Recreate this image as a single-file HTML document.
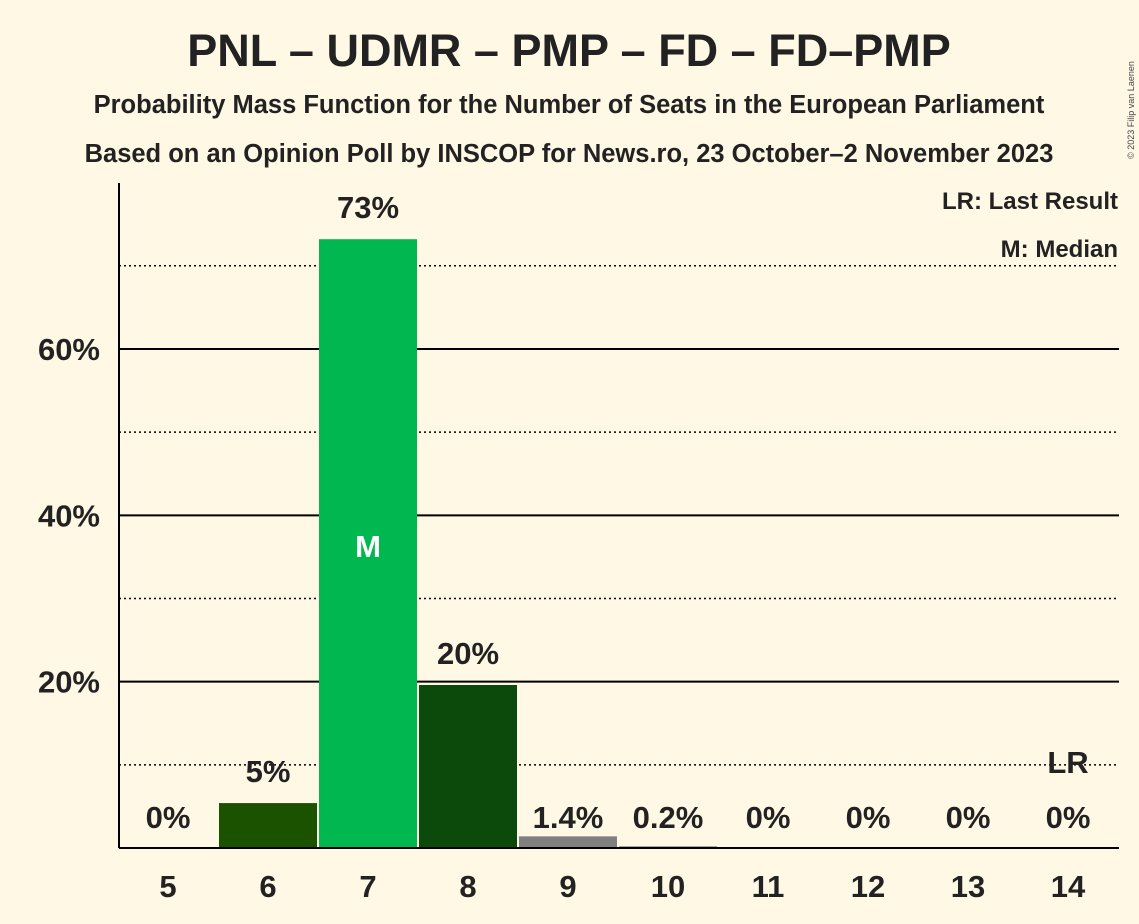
<!DOCTYPE html>
<html><head><meta charset="utf-8"><style>
body{margin:0;background:#fff8e5;}
svg{display:block;font-family:"Liberation Sans",sans-serif;font-weight:bold;}
</style></head><body>
<svg width="1139" height="924">
<rect width="1139" height="924" fill="#fff8e5"/>
<text x="569" y="66" text-anchor="middle" font-size="45" fill="#222">PNL – UDMR – PMP – FD – FD–PMP</text>
<text x="569" y="113" text-anchor="middle" font-size="25.5" fill="#222">Probability Mass Function for the Number of Seats in the European Parliament</text>
<text x="569" y="162" text-anchor="middle" font-size="25.5" fill="#222">Based on an Opinion Poll by INSCOP for News.ro, 23 October–2 November 2023</text>
<text x="1134" y="110" font-size="9" font-weight="normal" fill="#444" transform="rotate(-90 1134 110)" text-anchor="middle">© 2023 Filip van Laenen</text>
<g id="grid"></g>
<g id="bars"></g>
<line x1="119" y1="183" x2="119" y2="848" stroke="#000" stroke-width="2"/>
<line x1="119" y1="848" x2="1119" y2="848" stroke="#000" stroke-width="2"/>
<text x="1118" y="209" text-anchor="end" font-size="24" fill="#222">LR: Last Result</text>
<text x="1118" y="257" text-anchor="end" font-size="24" fill="#222">M: Median</text>
</svg>
<script>
const seats=[5,6,7,8,9,10,11,12,13,14];
const probs=[0,5.4,73.2,19.6,1.4,0.2,0,0,0,0];
const labels=["0%","5%","73%","20%","1.4%","0.2%","0%","0%","0%","0%"];
const colors=["#1a5200","#1a5200","#00b84f","#0b4a0b","#808080","#808080","#808080","#808080","#808080","#808080"];
const yTicks=[20,40,60];
const yDotted=[10,30,50,70];
const medianSeat=7, lastResultSeat=14;
const NS="http://www.w3.org/2000/svg";
const y=v=>848-v*8.317;
const x=s=>168+(s-5)*100;
const svg=document.querySelector('svg'),grid=document.getElementById('grid'),bars=document.getElementById('bars');
function mk(tag,at,parent){const e=document.createElementNS(NS,tag);for(const k in at)e.setAttribute(k,at[k]);parent.appendChild(e);return e;}
yDotted.forEach(v=>{const l=mk('line',{x1:119,x2:1119,y1:y(v),y2:y(v),stroke:'#000','stroke-width':1.5,'stroke-dasharray':'2,3'},grid);

});
yTicks.forEach(v=>{const l=mk('line',{x1:119,x2:1119,y1:y(v),y2:y(v),stroke:'#000','stroke-width':2},grid);


const t=mk('text',{x:100,y:y(v)+11,'text-anchor':'end','font-size':31,fill:'#222'},svg);t.textContent=v+'%';

});
seats.forEach((s,i)=>{
 if(probs[i]>0){const r=mk('rect',{x:x(s)-49,width:98,y:y(probs[i]),height:848-y(probs[i]),fill:colors[i]},bars);
 
 }
 const ly=probs[i]>2?y(probs[i])-32:817;
 const t=mk('text',{x:x(s),y:ly+11,'text-anchor':'middle','font-size':31,fill:'#222'},svg);t.textContent=labels[i];
 
 
 const xl=mk('text',{x:x(s),y:897,'text-anchor':'middle','font-size':31,fill:'#222'},svg);xl.textContent=s;
 
 
});
const m=mk('text',{x:x(medianSeat),y:557,'text-anchor':'middle','font-size':31,fill:'#fff'},svg);m.textContent='M';


const lr=mk('text',{x:x(lastResultSeat),y:773,'text-anchor':'middle','font-size':31,fill:'#222'},svg);lr.textContent='LR';


</script>
</body></html>
